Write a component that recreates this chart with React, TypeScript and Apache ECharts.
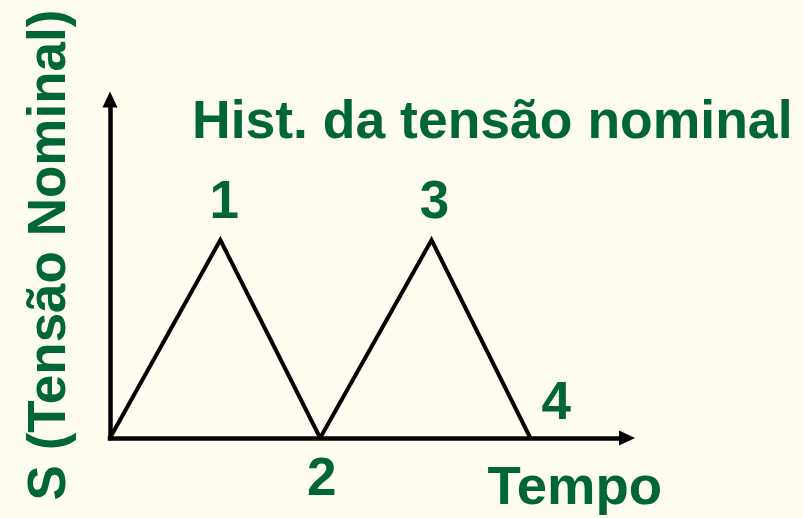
import React, { useEffect, useRef } from 'react';
import * as echarts from 'echarts';

// Stress history (nominal stress vs time)
const pointTimes = [0, 1.05, 2, 3.06, 4];
const pointStress = [0, 1, 0, 1, 0];
const pointLabels = ['', '1', '2', '3', '4'];

const titleText = 'Hist. da tensão nominal';
const xAxisName = 'Tempo';
const yAxisName = 'S (Tensão Nominal)';

const axisMaxTime = 4.92;
const axisMaxStress = 1.71;

// label offsets (px) relative to each labelled point
const labelOffsets: [number, number][] = [
  [0, 0],
  [4, -41],
  [1.5, 38.6],
  [3, -40.4],
  [26, -37.4],
];

const GREEN = '#006633';
const FONT = '"Liberation Sans", Arial, sans-serif';

export default function App() {
  const ref = useRef<HTMLDivElement>(null);

  useEffect(() => {
    if (!ref.current) return;
    const chart = echarts.init(ref.current, undefined, { renderer: 'svg' });

    const lineData = pointTimes.map((t, i) => [t, pointStress[i]]);
    const labelData = pointTimes
      .map((t, i) => ({
        value: [t, pointStress[i]],
        name: pointLabels[i],
        label: { offset: labelOffsets[i] },
      }))
      .filter((d) => d.name !== '');

    const axisCommon = {
      type: 'value' as const,
      min: 0,
      axisLine: {
        show: true,
        onZero: false,
        symbol: ['none', 'triangle'],
        symbolSize: [15, 16],
        lineStyle: { color: '#000', width: 4.5, cap: 'square' },
      },
      axisTick: { show: false },
      axisLabel: { show: false },
      splitLine: { show: false },
    };

    chart.setOption({
      animation: false,
      backgroundColor: '#FFFDEF',
      grid: { left: 110, right: 176, top: 99.5, bottom: 80, containLabel: false },
      xAxis: { ...axisCommon, max: axisMaxTime },
      yAxis: { ...axisCommon, max: axisMaxStress },
      series: [
        {
          type: 'line',
          data: lineData,
          symbol: 'none',
          silent: true,
          lineStyle: { color: '#000', width: 4, join: 'miter' },
          z: 3,
        },
        {
          type: 'scatter',
          data: labelData,
          symbolSize: 1,
          silent: true,
          itemStyle: { color: 'transparent', opacity: 1 },
          label: {
            show: true,
            position: 'inside',
            formatter: '{b}',
            color: GREEN,
            opacity: 1,
            fontSize: 53,
            fontWeight: 'bold',
            fontFamily: FONT,
          },
          z: 4,
        },
      ],
      graphic: [
        {
          type: 'text',
          x: 192,
          y: 119.6,
          style: {
            text: titleText,
            fill: GREEN,
            font: `bold 53.5px ${FONT}`,
            textAlign: 'left',
            textVerticalAlign: 'middle',
          },
        },
        {
          type: 'text',
          x: 487.5,
          y: 485.4,
          style: {
            text: xAxisName,
            fill: GREEN,
            font: `bold 54.5px ${FONT}`,
            textAlign: 'left',
            textVerticalAlign: 'middle',
          },
        },
        {
          type: 'text',
          x: 46.6,
          y: 255,
          rotation: Math.PI / 2,
          style: {
            text: yAxisName,
            fill: GREEN,
            font: `bold 53px ${FONT}`,
            textAlign: 'center',
            textVerticalAlign: 'middle',
          },
        },
      ],
    });

    return () => chart.dispose();
  }, []);

  return (
    <div
      ref={ref}
      style={{ position: 'absolute', left: 0, top: 0, width: 803, height: 518 }}
    />
  );
}
